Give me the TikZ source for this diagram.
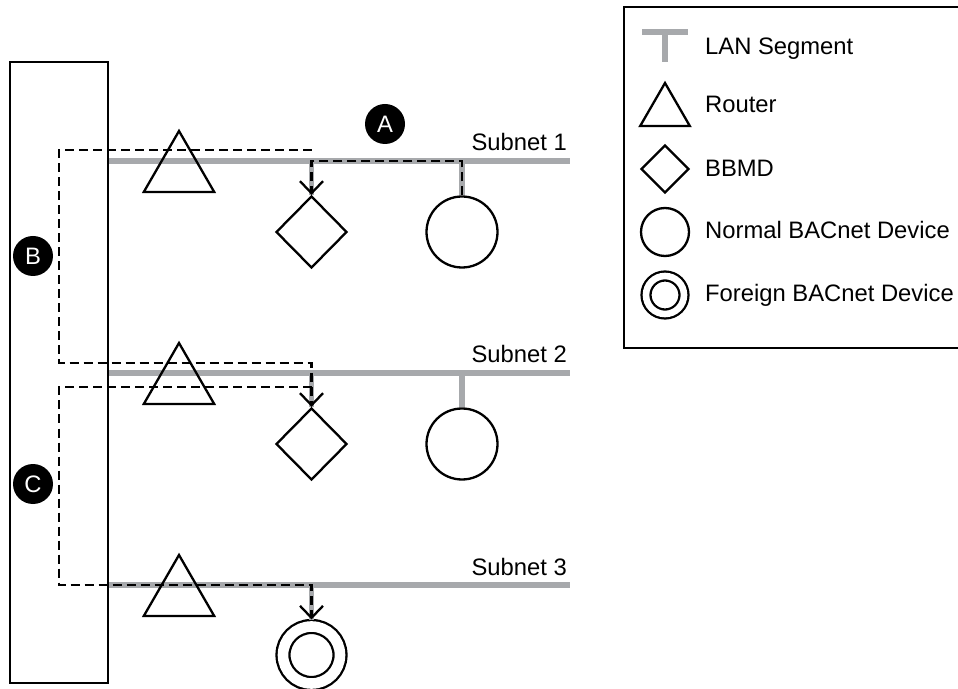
\documentclass[tikz,border=0pt]{standalone}
\usepackage{fontspec}
\setmainfont{Liberation Sans}
\usetikzlibrary{arrows.meta, positioning, shapes.geometric}
\definecolor{lanGray}{RGB}{167,169,172}

\begin{document}
\begin{tikzpicture}[x=0.5pt, y=-0.5pt, line width=1.15pt, font=\fontsize{11.9}{14}\selectfont,
    lan/.style={lanGray, line width=2.6pt},
    router/.style={regular polygon, regular polygon sides=3, draw, inner sep=0pt, minimum size=40.7pt},
    bbmd/.style={diamond, draw, inner sep=0pt, minimum width=35.5pt, minimum height=36pt},
    device/.style={circle, draw, inner sep=0pt, minimum size=35.5pt},
    foreign/.style={circle, draw, double, double distance=5.3pt, inner sep=0pt, minimum size=28.5pt, outer sep=3.5pt},
    msg/.style={dash pattern=on 4.5pt off 2.5pt, -{Straight Barb[length=6pt, width=11.5pt]}},
    badge/.style={circle, fill=black, text=white, inner sep=0pt, minimum size=20pt},
    subnet/.style={anchor=base east, inner sep=0pt},
    keytext/.style={anchor=base west, inner sep=0pt}]
  \useasboundingbox (0,0) rectangle (958,689);

  % backbone between the subnets
  \node[draw, inner sep=0pt, minimum width=49pt, minimum height=310.5pt] (wan) at (59,372.5) {};

  % LAN segments
  \coordinate (s1) at (570,161);
  \coordinate (s2) at (570,373);
  \coordinate (s3) at (570,585);
  \draw[lan] (wan.east |- s1) -- (s1);
  \draw[lan] (wan.east |- s2) -- (s2);
  \draw[lan] (wan.east |- s3) -- (s3);
  \node[subnet] (lbl1) at (568,151) {Subnet 1};
  \node[subnet] (lbl2) at (568,363) {Subnet 2};
  \node[subnet] (lbl3) at (568,575) {Subnet 3};

  % routers, BBMDs and devices
  \node[router] (rtr1) at (179,171.7) {};
  \node[router] (rtr2) at (179,383.7) {};
  \node[router] (rtr3) at (179,595.7) {};
  \node[bbmd] (bbmd1) at (311.5,232) {};
  \node[bbmd] (bbmd2) at (311.5,444) {};
  \node[device] (dev1) at (462,232) {};
  \node[device] (dev2) at (462,444) {};
  \node[foreign] (fdev) at (311.5,655) {};
  \draw[lan] (bbmd1.north |- s1) -- (bbmd1.north);
  \draw[lan] (bbmd2.north |- s2) -- (bbmd2.north);
  \draw[lan] (dev1.north |- s1) -- (dev1.north);
  \draw[lan] (dev2.north |- s2) -- (dev2.north);
  \draw[lan] (fdev.north |- s3) -- (fdev.north);

  % message paths
  \coordinate (b1) at (311.5,150);
  \coordinate (b2) at (311.5,363);
  \coordinate (c2) at (311.5,387);
  \draw[msg] (dev1.north) -- (dev1.north |- s1) -- (bbmd1.north |- s1) -- (bbmd1.north);
  \draw[msg] (b1) -- (wan.center |- b1) -- (wan.center |- b2) -- (b2) -- (bbmd2.north);
  \draw[msg] (c2) -- (wan.center |- c2) -- (wan.center |- s3) -- (fdev.north |- s3) -- (fdev.north);

  \node[badge] (ba) at (385,124) {A};
  \node[badge] (bb) at (33,256) {B};
  \node[badge] (bc) at (33,484) {C};

  % legend
  \node[draw, inner sep=0pt, minimum width=169pt, minimum height=170.5pt] (legend) at (793,177.5) {};
  \coordinate (kT) at (665,32);
  \draw[lan] ([xshift=-11.5pt]kT) -- ([xshift=11.5pt]kT) (kT) -- ([yshift=-15pt]kT);
  \node[router, minimum size=28.7pt] (krtr) at (665,111.7) {};
  \node[bbmd, minimum width=24pt, minimum height=24pt] (kbbmd) at (665,169) {};
  \node[device, minimum size=24pt] (kdev) at (665,232) {};
  \node[foreign, minimum size=19pt, double distance=3.3pt] (kfdev) at (665,295) {};
  \node[keytext] (klan) at (704,55) {LAN Segment};
  \node[keytext] (krtrl) at (704,113) {Router};
  \node[keytext] (kbbmdl) at (704,177) {BBMD};
  \node[keytext] (kdevl) at (704,239) {Normal BACnet Device};
  \node[keytext] (kfdevl) at (704,302) {Foreign BACnet Device};
\end{tikzpicture}
\end{document}
